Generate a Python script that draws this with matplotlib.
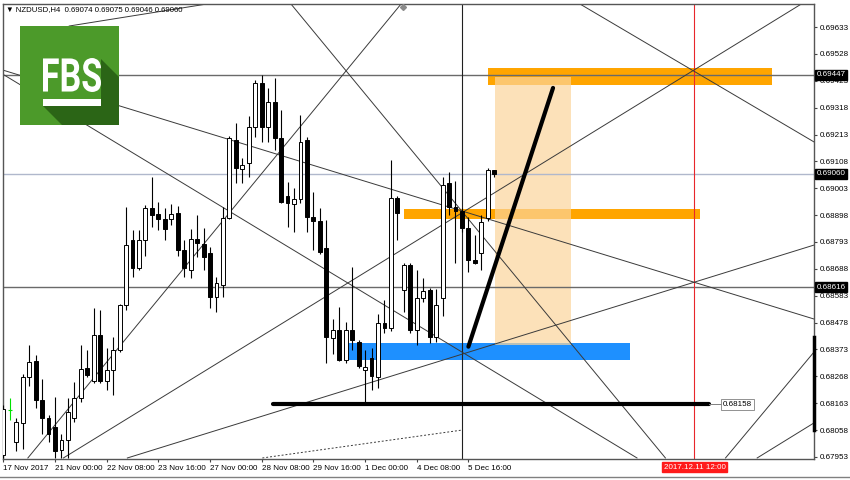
import numpy as np
import matplotlib.pyplot as plt
from matplotlib.patches import Rectangle, Polygon, PathPatch
from matplotlib.textpath import TextPath
from matplotlib.font_manager import FontProperties
from matplotlib.transforms import Affine2D

plt.rcParams['font.family'] = ['Liberation Sans', 'DejaVu Sans']

# NZDUSD H4 candles, bar 0 = 17 Nov 16:00
opens = [0.67961, 0.68137, 0.68012, 0.68086, 0.68266, 0.68328, 0.68176, 0.68105, 0.68070, 0.67980,
         0.68019, 0.68105, 0.68184, 0.68301, 0.68250, 0.68430, 0.68250, 0.68293, 0.68371, 0.68547,
         0.68801, 0.68691, 0.68801, 0.68926, 0.68902, 0.68883, 0.68883, 0.68906, 0.68762, 0.68684,
         0.68805, 0.68785, 0.68750, 0.68578, 0.68625, 0.68887, 0.69192, 0.69078, 0.69102, 0.69242,
         0.69414, 0.69242, 0.69340, 0.69199, 0.68973, 0.68942, 0.68961, 0.69192, 0.68891, 0.68875,
         0.68770, 0.68418, 0.68449, 0.68332, 0.68449, 0.68402, 0.68293, 0.68340, 0.68266, 0.68477,
         0.68457, 0.68965, 0.68606, 0.68703, 0.68449, 0.68574, 0.68606, 0.68422, 0.68574, 0.69024,
         0.68930, 0.68914, 0.68848, 0.68723, 0.68750, 0.68887, 0.69074]
highs = [0.68156, 0.68184, 0.68105, 0.68277, 0.68391, 0.68352, 0.68258, 0.68117, 0.68187, 0.68043,
         0.68184, 0.68246, 0.68391, 0.68371, 0.68535, 0.68527, 0.68379, 0.68422, 0.68551, 0.68930,
         0.68840, 0.68840, 0.68938, 0.69047, 0.68949, 0.68926, 0.68942, 0.68934, 0.68801, 0.68844,
         0.68899, 0.68848, 0.68774, 0.68656, 0.68930, 0.69207, 0.69258, 0.69121, 0.69285, 0.69426,
         0.69447, 0.69395, 0.69434, 0.69309, 0.69027, 0.69004, 0.69289, 0.69203, 0.68988, 0.68926,
         0.68879, 0.68492, 0.68539, 0.68480, 0.68695, 0.68410, 0.68371, 0.68379, 0.68512, 0.68566,
         0.69113, 0.68973, 0.68711, 0.68711, 0.68684, 0.68652, 0.68613, 0.68609, 0.69047, 0.69067,
         0.69031, 0.68926, 0.68891, 0.68820, 0.68899, 0.69082, 0.69075]
lows = [0.67949, 0.68098, 0.67976, 0.67984, 0.68230, 0.68144, 0.68043, 0.68012, 0.67949, 0.67949,
        0.67949, 0.68090, 0.68168, 0.68266, 0.68242, 0.68242, 0.68215, 0.68195, 0.68363, 0.68527,
        0.68656, 0.68684, 0.68738, 0.68852, 0.68840, 0.68801, 0.68859, 0.68738, 0.68656, 0.68652,
        0.68734, 0.68684, 0.68535, 0.68520, 0.68578, 0.68883, 0.69024, 0.69024, 0.69047, 0.69203,
        0.69184, 0.69184, 0.69152, 0.68945, 0.68852, 0.68832, 0.68945, 0.68832, 0.68762, 0.68746,
        0.68320, 0.68355, 0.68328, 0.68320, 0.68371, 0.68301, 0.68168, 0.68215, 0.68223, 0.68438,
        0.68445, 0.68801, 0.68520, 0.68438, 0.68391, 0.68559, 0.68398, 0.68402, 0.68504, 0.68899,
        0.68711, 0.68832, 0.68676, 0.68707, 0.68684, 0.68875, 0.69046]
closes = [0.68141, 0.68137, 0.68090, 0.68266, 0.68324, 0.68176, 0.68105, 0.68043, 0.67976, 0.68019,
          0.68129, 0.68184, 0.68297, 0.68273, 0.68430, 0.68250, 0.68293, 0.68371, 0.68547, 0.68781,
          0.68691, 0.68801, 0.68926, 0.68899, 0.68883, 0.68844, 0.68902, 0.68762, 0.68691, 0.68805,
          0.68789, 0.68734, 0.68578, 0.68633, 0.68887, 0.69199, 0.69082, 0.69094, 0.69242, 0.69414,
          0.69242, 0.69340, 0.69199, 0.68949, 0.68945, 0.68961, 0.69184, 0.68891, 0.68875, 0.68754,
          0.68422, 0.68449, 0.68332, 0.68449, 0.68410, 0.68309, 0.68305, 0.68270, 0.68477, 0.68457,
          0.68965, 0.68906, 0.68703, 0.68449, 0.68574, 0.68602, 0.68422, 0.68547, 0.69016, 0.68930,
          0.68914, 0.68848, 0.68723, 0.68711, 0.68871, 0.69074, 0.69060]

price_ticks = [0.67953, 0.68058, 0.68163, 0.68268, 0.68373, 0.68478, 0.68583, 0.68688, 0.68793,
               0.68898, 0.69003, 0.69108, 0.69213, 0.69318, 0.69423, 0.69528, 0.69633]
time_ticks = [0, 8, 16, 24, 32, 40, 48, 56, 64, 72]
time_labels = ['17 Nov 2017', '21 Nov 00:00', '22 Nov 08:00', '23 Nov 16:00', '27 Nov 00:00',
               '28 Nov 08:00', '29 Nov 16:00', '1 Dec 00:00', '4 Dec 08:00', '5 Dec 16:00']

# drawn objects (bar index, price)
hlines = [0.69447, 0.68616]
bid = 0.69060
vline_bar = 71
future_bar = 107
future_label = '2017.12.11 12:00'
thin_lines = [((44.4, 0.69727), (102.5, 0.67949)),
              ((3.8, 0.67949), (61.7, 0.69727)),
              ((9.3, 0.67949), (123.8, 0.69727)),
              ((19.2, 0.67949), (125.5, 0.68781)),
              ((-0.1, 0.69465), (125.5, 0.68492)),
              ((111.8, 0.67949), (125.5, 0.68363)),
              ((116.7, 0.67949), (125.5, 0.68086)),
              ((-0.1, 0.69449), (98.1, 0.67949)),
              ((89.0, 0.69727), (125.5, 0.69184)),
              ((10.2, 0.69637), (32.5, 0.69727))]
dotted_line = ((40.1, 0.67949), (71.0, 0.68058))
zones = [(75.1, 119.0, 0.69406, 0.69473, '#ffa500', 1.0),
         (62.1, 107.9, 0.68883, 0.68922, '#ffa500', 1.0),
         (53.4, 97.0, 0.68332, 0.68398, '#1e90ff', 1.0),
         (76.1, 87.9, 0.68391, 0.69438, '#fbd59c', 0.7)]
thick_diag = ((72.0, 0.68384), (85.1, 0.69395))
support = 0.68158
support_bars = (41.8, 109.3)

fig = plt.figure(figsize=(8.5, 4.8), dpi=100)
ax = fig.add_axes([3 / 850, 21 / 480, 811 / 850, 455 / 480])
ax.set_xlim(-0.05, 125.5)
ax.set_ylim(0.67945, 0.69723)

for x0, x1, y0, y1, col, a in zones:
    ax.add_patch(Rectangle((x0, y0), x1 - x0, y1 - y0, facecolor=col, edgecolor='none', alpha=a, zorder=1))

for p in hlines:
    ax.axhline(p, color='#6a6a6a', lw=1, zorder=2)
ax.axhline(bid, color='#b0b8cc', lw=1, zorder=2)
ax.axvline(vline_bar, color='#202020', lw=0.8, zorder=2)
ax.axvline(future_bar, color='#e8262b', lw=0.8, zorder=2)

for (xa, ya), (xb, yb) in thin_lines:
    ax.plot([xa, xb], [ya, yb], color='#3a3a3a', lw=0.7, zorder=2)
ax.plot([dotted_line[0][0], dotted_line[1][0]], [dotted_line[0][1], dotted_line[1][1]],
        color='#3a3a3a', lw=0.7, ls=(0, (2, 2)), zorder=2)
# small anchor mark where a fan line leaves the top
ax.plot([61.9], [0.69712], marker='D', ms=3, color='#8a8a8a', clip_on=False, zorder=3)

# candles
x = np.arange(len(opens))
o = np.array(opens)
c = np.array(closes)
h = np.array(highs)
l = np.array(lows)
doji = o == c
up = (c > o)
down = (c < o)
ax.vlines(x[~doji], l[~doji], h[~doji], color='black', lw=0.8, zorder=3)
ax.bar(x[up], (c - o)[up], bottom=o[up], width=0.6, facecolor='white', edgecolor='black', lw=0.7, zorder=4)
ax.bar(x[down], (o - c)[down], bottom=c[down], width=0.6, facecolor='black', edgecolor='black', lw=0.7, zorder=4)
ax.vlines(x[doji], l[doji], h[doji], color='#00e000', lw=0.8, zorder=4)
ax.hlines(o[doji], x[doji] - 0.3, x[doji] + 0.3, color='#00e000', lw=0.8, zorder=4)

# thick user lines
ax.plot([thick_diag[0][0], thick_diag[1][0]], [thick_diag[0][1], thick_diag[1][1]],
        color='black', lw=3, solid_capstyle='round', zorder=5)
ax.plot(support_bars, [support, support], color='black', lw=3, solid_capstyle='round', zorder=5)
ax.plot([support_bars[1], support_bars[1] + 2], [support, support], color='#808080', lw=0.7, zorder=5)
ax.text(support_bars[1] + 2.1, support, '0.68158', fontsize=5.8, va='center', ha='left', zorder=6,
        bbox=dict(boxstyle='square,pad=0.2', fc='white', ec='#808080', lw=0.6))

# axes
for s in ax.spines.values():
    s.set_color('#555555')
    s.set_linewidth(1)
ax.yaxis.tick_right()
ax.set_yticks(price_ticks)
ax.set_yticklabels(['%.5f' % p for p in price_ticks])
ax.set_xticks(time_ticks)
ax.set_xticklabels(time_labels)
for t in ax.get_xticklabels():
    t.set_ha('left')
ax.tick_params(axis='both', direction='out', length=2.5, width=0.8, color='#444444',
               labelsize=5.8, pad=1.5)
ax.tick_params(axis='x', pad=2)

yax = ax.get_yaxis_transform()
ax.plot([1.0, 1.0], [0.68058, 0.68422], transform=yax, color='black', lw=2.5, clip_on=False, zorder=6)
for p in hlines + [bid]:
    ax.text(1.003, p, '%.5f' % p, transform=yax, fontsize=5.8, color='white', va='center', ha='left',
            clip_on=False, zorder=7, bbox=dict(boxstyle='square,pad=0.2', fc='black', ec='black'))
ax.text(future_bar, -0.018, future_label, transform=ax.get_xaxis_transform(), fontsize=5.8,
        color='white', va='center', ha='center', clip_on=False, zorder=7,
        bbox=dict(boxstyle='square,pad=0.2', fc='#ff1a1a', ec='#ff1a1a'))

ax.text(0.004, 0.987, '\u25bc NZDUSD,H4  0.69074 0.69075 0.69046 0.69060', transform=ax.transAxes,
        fontsize=5.6, va='center', ha='left', zorder=8)

# FBS logo (pixel overlay)
ov = fig.add_axes([0, 0, 1, 1], zorder=10)
ov.set_xlim(0, 850)
ov.set_ylim(480, 0)
ov.axis('off')
ov.patch.set_alpha(0)
ov.add_patch(Rectangle((20, 26), 99, 99, facecolor='#4c9a2a', edgecolor='none'))
ov.add_patch(Polygon([(43, 106), (62, 125), (119, 125), (119, 77), (101, 59), (101, 106)],
                     closed=True, facecolor='#2b6516', edgecolor='none'))
tp = TextPath((0, 0), 'FBS', prop=FontProperties(family='Roboto', weight='bold'), size=10)
bb = tp.get_extents()
tr = Affine2D().translate(-bb.x0, -bb.y0).scale(58 / bb.width, -34 / bb.height).translate(43, 92)
ov.add_patch(PathPatch(tr.transform_path(tp), facecolor='white', edgecolor='none'))
ov.add_patch(Rectangle((43, 98.5), 58, 7, facecolor='white', edgecolor='none'))
ov.plot([0, 850], [477, 477], color='#808080', lw=1)

fig.savefig('out.png', dpi=100)
